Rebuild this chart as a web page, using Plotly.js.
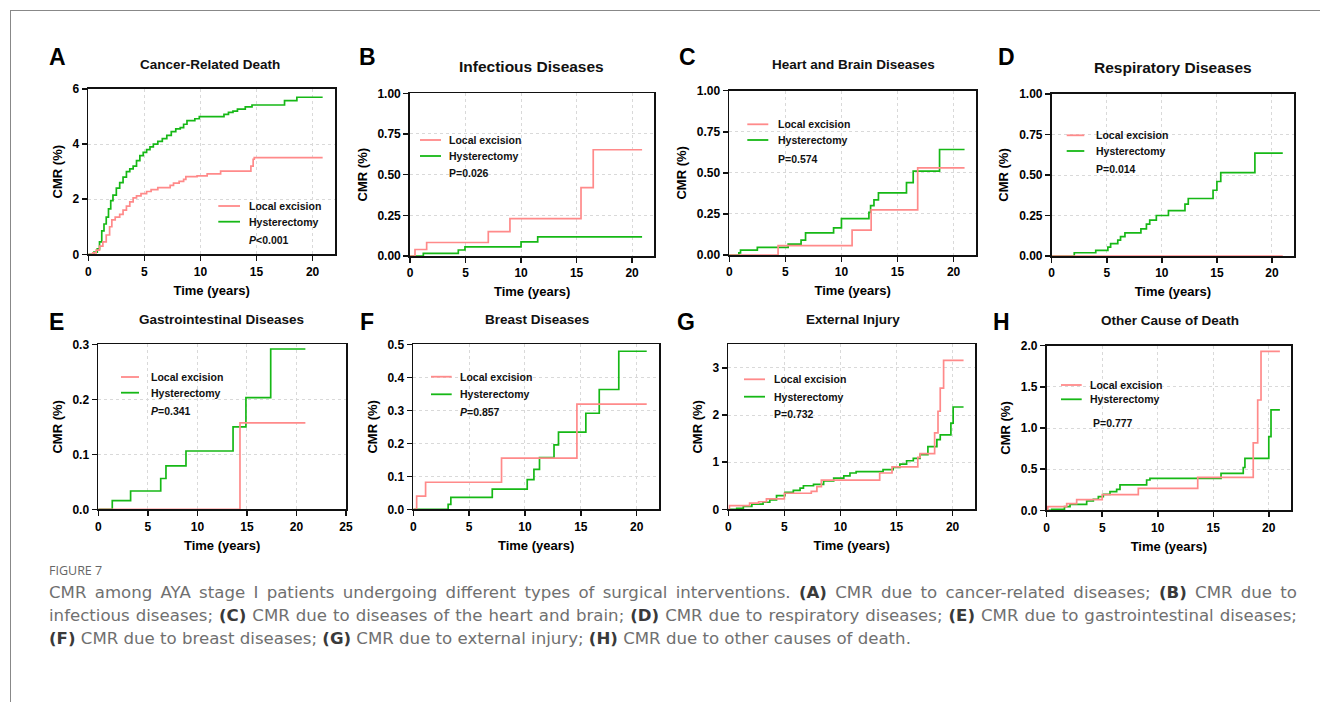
<!DOCTYPE html>
<html>
<head>
<meta charset="utf-8">
<script src="https://cdn.plot.ly/plotly-3.0.1.min.js"></script>
<style>html,body{margin:0;padding:0;background:#fff;}#chart{width:1320px;height:702px;}</style>
</head>
<body>
<div id="chart"></div>
<script>
// ---------- DATA ----------
const panelLetters = ["A","B","C","D","E","F","G","H"];
const panelTitles = ["Cancer-Related Death","Infectious Diseases","Heart and Brain Diseases","Respiratory Diseases",
                     "Gastrointestinal Diseases","Breast Diseases","External Injury","Other Cause of Death"];
const seriesNames = ["Local excision","Hysterectomy"];
const pValues = ["<i>P</i>&lt;0.001","P=0.026","P=0.574","P=0.014","<i>P</i>=0.341","<i>P</i>=0.857","P=0.732","P=0.777"];
const xTitle = "Time (years)";
const yTitle = "CMR (%)";

// A: Cancer-related death
const aLocalT = [0,0.4,0.7,1.0,1.3,1.6,1.9,2.1,2.4,2.8,3.1,3.4,3.7,4.0,4.3,4.7,5.2,5.6,6.2,7.3,7.6,8.1,8.5,8.7,9.7,10.6,11.8,14.5,14.7,14.8,20.9];
const aLocalV = [0,0.05,0.15,0.3,0.45,0.7,1.0,1.25,1.35,1.45,1.6,1.75,1.9,2.05,2.12,2.2,2.28,2.35,2.42,2.5,2.58,2.65,2.72,2.82,2.85,2.92,3.02,3.2,3.45,3.51,3.51];
const aHystT = [0,0.5,0.8,1.0,1.2,1.4,1.6,1.8,2.0,2.2,2.5,2.8,3.1,3.4,3.7,4.0,4.3,4.6,4.9,5.2,5.5,5.8,6.2,6.6,7.0,7.4,7.8,8.2,8.5,8.8,9.5,9.9,12.1,12.5,12.9,13.3,14.0,14.6,17.5,18.6,20.9];
const aHystV = [0,0.08,0.2,0.45,0.85,1.1,1.35,1.65,1.95,2.15,2.4,2.6,2.8,3.0,3.1,3.2,3.4,3.58,3.7,3.8,3.9,4.0,4.1,4.2,4.32,4.45,4.55,4.6,4.72,4.85,4.92,5.0,5.08,5.15,5.2,5.27,5.35,5.42,5.58,5.7,5.7];
// B: Infectious diseases
const bLocalT = [0,0.45,1.5,7.05,9.0,15.4,16.5,20.9];
const bLocalV = [0,0.04,0.083,0.15,0.23,0.42,0.653,0.653];
const bHystT = [0,1.2,4.35,4.95,10.0,11.5,20.9];
const bHystV = [0,0.016,0.037,0.056,0.087,0.118,0.118];
// C: Heart and brain diseases
const cLocalT = [0,4.35,10.95,12.65,16.8,20.98];
const cLocalV = [0,0.057,0.152,0.275,0.53,0.53];
const cHystT = [0,0.85,1.0,2.5,5.25,6.4,6.8,9.3,10.0,12.45,12.6,12.9,13.3,15.8,16.4,18.75,20.98];
const cHystV = [0,0.013,0.03,0.046,0.066,0.09,0.135,0.165,0.222,0.26,0.3,0.335,0.378,0.44,0.51,0.642,0.642];
// D: Respiratory diseases
const dLocalT = [0,20.98];
const dLocalV = [0,0];
const dHystT = [0,2.05,4.0,5.1,5.35,6.0,6.25,6.65,8.1,8.6,8.9,9.5,10.6,12.1,12.4,14.65,15.0,15.35,18.45,20.98];
const dHystV = [0,0.02,0.035,0.055,0.076,0.098,0.12,0.143,0.168,0.197,0.222,0.25,0.28,0.32,0.355,0.406,0.46,0.515,0.635,0.635];
// E: Gastrointestinal diseases
const eLocalT = [0,14.3,20.9];
const eLocalV = [0,0.157,0.157];
const eHystT = [0,1.41,3.26,6.3,6.83,8.85,13.6,14.9,17.4,20.9];
const eHystV = [0,0.0158,0.0333,0.056,0.079,0.106,0.15,0.203,0.2915,0.2915];
// F: Breast diseases
const fLocalT = [0,0.3,1.1,7.9,14.65,20.9];
const fLocalV = [0,0.04,0.082,0.155,0.319,0.319];
const fHystT = [0,3.12,3.36,7.07,10.2,10.8,11.3,12.6,13.0,15.45,16.65,18.4,20.9];
const fHystV = [0,0.015,0.036,0.061,0.09,0.121,0.157,0.195,0.234,0.291,0.363,0.479,0.479];
// G: External injury
const gLocalT = [0,0.1,1.9,2.7,3.4,5.0,7.4,7.9,8.3,13.5,14.6,16.9,17.1,18.4,18.7,18.9,19.2,20.98];
const gLocalV = [0,0.08,0.13,0.16,0.22,0.34,0.38,0.48,0.62,0.77,0.9,1.1,1.18,1.62,2.08,2.57,3.16,3.16];
const gHystT = [0,0.75,1.34,2.1,3.1,3.7,4.3,5.05,5.8,6.4,6.7,7.6,8.5,9.4,10.3,10.85,11.4,13.8,14.7,15.3,15.9,16.5,17.1,17.8,18.6,18.9,19.85,20.05,20.98];
const gHystV = [0,0.02,0.06,0.11,0.15,0.2,0.29,0.36,0.4,0.45,0.5,0.53,0.6,0.66,0.71,0.77,0.8,0.84,0.89,0.96,1.03,1.08,1.16,1.33,1.48,1.58,1.83,2.17,2.17];
// H: Other cause of death
const hLocalT = [0,0.1,1.8,2.7,5.0,8.25,13.6,18.6,19.0,19.3,21.0];
const hLocalV = [0,0.045,0.08,0.13,0.19,0.267,0.4,0.82,1.34,1.93,1.93];
const hHystT = [0,0.45,1.6,2.1,3.6,4.2,4.65,5.1,5.7,6.3,6.6,9.0,9.3,15.7,17.7,17.85,20.0,20.2,21.0];
const hHystV = [0,0.012,0.045,0.073,0.113,0.134,0.166,0.194,0.227,0.255,0.308,0.368,0.389,0.449,0.52,0.632,0.895,1.22,1.22];

// axis scales per panel
const xMax = [22,22,22,22,25,22,22,22];
const yMax = [6,1,1,1,0.3,0.5,3.5,2];
const yStep = [2,0.25,0.25,0.25,0.1,0.1,1,0.5];
const yFormat = ["d",".2f",".2f",".2f",".1f",".1f","d",".1f"];

const captionHead = "FIGURE 7";
const captionLines = [
 "CMR among AYA stage I patients undergoing different types of surgical interventions. <b>(A)</b> CMR due to cancer-related diseases; <b>(B)</b> CMR due to",
 "infectious diseases; <b>(C)</b> CMR due to diseases of the heart and brain; <b>(D)</b> CMR due to respiratory diseases; <b>(E)</b> CMR due to gastrointestinal diseases;",
 "<b>(F)</b> CMR due to breast diseases; <b>(G)</b> CMR due to external injury; <b>(H)</b> CMR due to other causes of death."
];

// ---------- LAYOUT (pixel geometry) ----------
const W = 1320, H = 702;
const px = v => v / W, py = v => 1 - v / H;
// plot boxes [left, right, top, bottom] in px
const boxes = [
 [88.3,335,89,254.3],[410,654.3,93.3,256],[729.3,976,90.7,255],[1051.7,1294,94,256],
 [98.3,346,344.3,509.3],[413.3,659,344.3,509.3],[728.3,975,344.3,509.3],[1046.7,1291,345.7,510.3]
];
const letterPos = [[57,57],[367,57],[687,57],[1006,57],[56,322],[367,322],[686,322],[1001,322]];
const titlePos = [[210,64],[531.7,66.7],[853,65],[1173,67.3],[221.7,319],[536.7,319],[852.7,319],[1170,320]];
const titleSize = [13.5,15.5,13.5,15.5,13.5,13.5,13.5,13.5];
// legend: [lineX0, lineX1, textX, row1Y, row2Y, pX, pY]
const legendPos = [
 [218.3,240,246.7,206,221.7,246.7,240],
 [420,441,446.7,140,156,446.7,173.3],
 [747.3,768.3,776,124.3,140,776,159],
 [1066.7,1084.3,1094,135.3,151,1094,169.3],
 [121,139,149,377,392.7,149,411],
 [431,451.7,458.3,376.7,394.3,458.3,412.3],
 [744,765,771.7,379.3,396.7,771.7,413.7],
 [1061,1081.7,1088.3,385,399.3,1091,423.3]
];

const PINK = "#FF8A8A", GREEN = "#16B816";
const FONT = "Liberation Sans, Arial, Helvetica, sans-serif";
const CAPFONT = "DejaVu Sans, Open Sans, sans-serif";

const localData = [[aLocalT,aLocalV],[bLocalT,bLocalV],[cLocalT,cLocalV],[dLocalT,dLocalV],[eLocalT,eLocalV],[fLocalT,fLocalV],[gLocalT,gLocalV],[hLocalT,hLocalV]];
const hystData  = [[aHystT,aHystV],[bHystT,bHystV],[cHystT,cHystV],[dHystT,dHystV],[eHystT,eHystV],[fHystT,fHystV],[gHystT,gHystV],[hHystT,hHystV]];

const traces = [];
const layout = {
  width: W, height: H, margin: {l:0,r:0,t:0,b:0},
  paper_bgcolor: "#fff", plot_bgcolor: "#fff",
  showlegend: false, font: {family: FONT, color: "#000"},
  annotations: [], shapes: []
};

for (let i = 0; i < 8; i++) {
  const n = i === 0 ? "" : String(i + 1);
  const xa = "x" + n, ya = "y" + n;
  traces.push({x: hystData[i][0], y: hystData[i][1], xaxis: xa, yaxis: ya, type: "scatter", mode: "lines",
    name: seriesNames[1], line: {shape: "hv", color: GREEN, width: 1.7}, hoverinfo: "skip"});
  traces.push({x: localData[i][0], y: localData[i][1], xaxis: xa, yaxis: ya, type: "scatter", mode: "lines",
    name: seriesNames[0], line: {shape: "hv", color: PINK, width: 1.7}, hoverinfo: "skip"});

  const b = boxes[i];
  const common = {
    showline: true, linecolor: "#111", linewidth: 1.8, mirror: true,
    ticks: "outside", ticklen: 5, tickwidth: 1.5, tickcolor: "#111",
    showgrid: true, gridcolor: "#d9d9d9", griddash: "3px,3px", gridwidth: 1,
    zeroline: false, fixedrange: true,
    tickfont: {family: FONT, size: 12, color: "#000", weight: "bold"}
  };
  layout["xaxis" + n] = Object.assign({}, common, {
    domain: [px(b[0]), px(b[1])], anchor: ya, range: [0, xMax[i]], dtick: 5, tick0: 0,
    title: {text: xTitle, font: {family: FONT, size: 13, weight: "bold", color: "#000"}, standoff: 8}
  });
  layout["yaxis" + n] = Object.assign({}, common, {
    domain: [py(b[3]), py(b[2])], anchor: xa, range: [0, yMax[i]], dtick: yStep[i], tick0: 0,
    tickformat: yFormat[i],
    title: {text: yTitle, font: {family: FONT, size: 13, weight: "bold", color: "#000"}, standoff: 7}
  });

  layout.annotations.push({xref: "paper", yref: "paper", x: px(letterPos[i][0]), y: py(letterPos[i][1]),
    xanchor: "center", yanchor: "middle", showarrow: false, text: "<b>" + panelLetters[i] + "</b>",
    font: {family: FONT, size: 23, color: "#000"}});
  layout.annotations.push({xref: "paper", yref: "paper", x: px(titlePos[i][0]), y: py(titlePos[i][1]),
    xanchor: "center", yanchor: "middle", showarrow: false, text: "<b>" + panelTitles[i] + "</b>",
    font: {family: FONT, size: titleSize[i], color: "#111"}});

  const L = legendPos[i];
  [[PINK, L[3], seriesNames[0]], [GREEN, L[4], seriesNames[1]]].forEach(([c, yy, t]) => {
    layout.shapes.push({type: "line", xref: "paper", yref: "paper", x0: px(L[0]), x1: px(L[1]), y0: py(yy), y1: py(yy),
      line: {color: c, width: 1.8}});
    layout.annotations.push({xref: "paper", yref: "paper", x: px(L[2]), y: py(yy), xanchor: "left", yanchor: "middle",
      showarrow: false, text: "<b>" + t + "</b>", font: {family: FONT, size: 10.5, color: "#111"}});
  });
  layout.annotations.push({xref: "paper", yref: "paper", x: px(L[5]), y: py(L[6]), xanchor: "left", yanchor: "middle",
    showarrow: false, text: "<b>" + pValues[i] + "</b>", font: {family: FONT, size: 10.5, color: "#111"}});
}

// frame
layout.shapes.push({type: "line", xref: "paper", yref: "paper", x0: px(10), x1: 1, y0: py(10.5), y1: py(10.5), line: {color: "#888", width: 1}});
layout.shapes.push({type: "line", xref: "paper", yref: "paper", x0: px(10.5), x1: px(10.5), y0: py(10), y1: 0, line: {color: "#888", width: 1}});

// caption
layout.annotations.push({xref: "paper", yref: "paper", x: px(47), y: py(570), xanchor: "left", yanchor: "middle",
  showarrow: false, text: captionHead, font: {family: "Open Sans, sans-serif", size: 12.5, color: "#666"}});
const capY = [592, 615, 638];
captionLines.forEach((t, k) => {
  layout.annotations.push({xref: "paper", yref: "paper", x: px(47), y: py(capY[k]), xanchor: "left", yanchor: "middle",
    showarrow: false, align: "left", text: t.replace(/<b>/g, '<b style="color:#3a3a3a">'),
    font: {family: CAPFONT, size: 16.6, color: "#707070"}});
});

Plotly.newPlot("chart", traces, layout, {displayModeBar: false, staticPlot: true}).then(() => {
  // justify the first two caption lines across the text block (47px .. 1295px)
  const targets = captionLines.slice(0, 2).map(s => s.replace(/<[^>]+>/g, ""));
  document.querySelectorAll("text.annotation-text").forEach(el => {
    const txt = el.textContent;
    if (targets.indexOf(txt) >= 0) {
      const natural = el.getComputedTextLength();
      const spaces = (txt.match(/ /g) || []).length;
      if (spaces > 0) el.style.wordSpacing = ((1248 - natural) / spaces) + "px";
    }
  });
});
</script>
</body>
</html>
